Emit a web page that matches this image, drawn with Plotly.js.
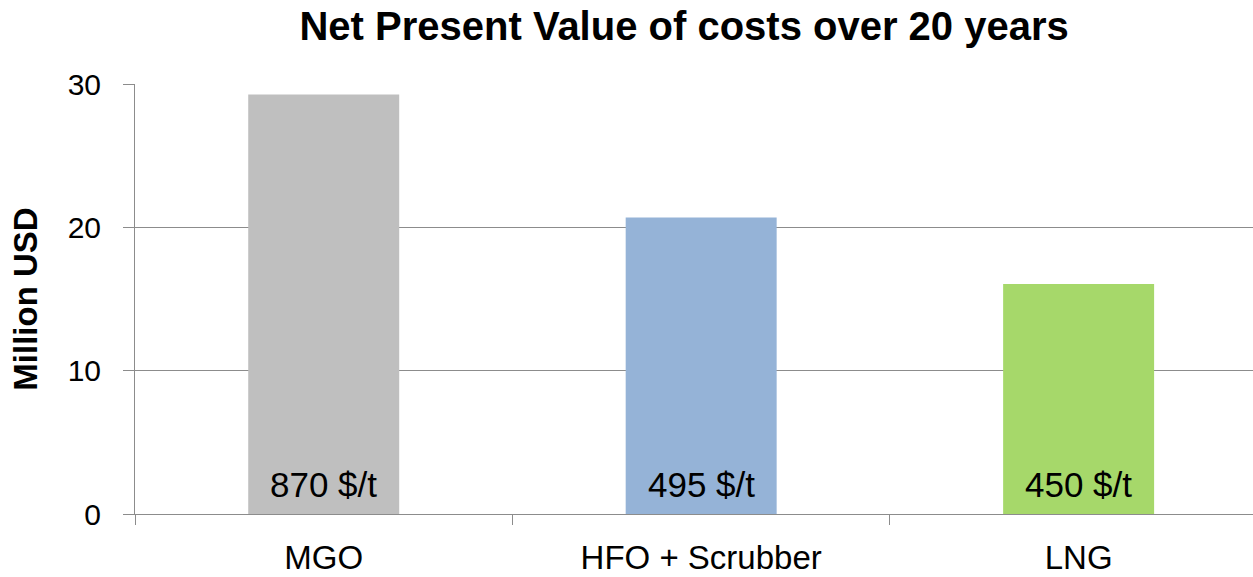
<!DOCTYPE html>
<html>
<head>
<meta charset="utf-8">
<script src="https://cdn.plot.ly/plotly-3.0.1.min.js"></script>
<style>
html,body{margin:0;padding:0;background:#fff;}
#chart{width:1253px;height:577px;}
</style>
</head>
<body>
<div id="chart"></div>
<script>
const categories = ["MGO", "HFO + Scrubber", "LNG"];
const npvMillionUSD = [29.26, 20.68, 16.05];
const fuelPrices = ["870 $/t", "495 $/t", "450 $/t"];
const barColors = ["#BFBFBF", "#95B3D7", "#A6D86A"];
const yTicks = [0, 10, 20, 30];

const FONT = "Liberation Sans, Arial, sans-serif";

const trace = {
  type: "bar",
  x: categories,
  y: npvMillionUSD,
  marker: {color: barColors, line: {width: 0}},
  width: 0.4,
  hoverinfo: "x+y"
};

const annotations = categories.map((c, i) => ({
  x: c, y: 0, xref: "x", yref: "y",
  text: fuelPrices[i],
  showarrow: false,
  xanchor: "center", yanchor: "middle",
  yshift: 30,
  font: {family: FONT, size: 35, color: "#000"}
}));

const layout = {
  width: 1253, height: 577,
  margin: {l: 135, r: 0, t: 84, b: 63},
  paper_bgcolor: "#fff", plot_bgcolor: "#fff",
  showlegend: false,
  title: {
    text: "<b>Net Present Value of costs over 20 years</b>",
    font: {family: FONT, size: 40, color: "#000"},
    x: 0.546, xref: "container", xanchor: "center",
    y: 0.955, yref: "container", yanchor: "middle"
  },
  xaxis: {
    type: "category",
    range: [-0.5, 2.462],
    showline: true, linecolor: "#8C8C8C", linewidth: 1,
    ticks: "outside", tickson: "boundaries", ticklen: 10, tickcolor: "#8C8C8C", tickwidth: 1,
    showgrid: false, zeroline: false,
    tickfont: {family: FONT, size: 33, color: "#000"},
    ticklabelstandoff: 14
  },
  yaxis: {
    range: [0, 30],
    tickvals: yTicks,
    showline: true, linecolor: "#8C8C8C", linewidth: 1,
    ticks: "outside", ticklen: 11, tickcolor: "#8C8C8C", tickwidth: 1,
    showgrid: true, gridcolor: "#8C8C8C", gridwidth: 1,
    zeroline: false,
    tickfont: {family: FONT, size: 30, color: "#000"},
    ticklabelstandoff: 16,
    title: {
      text: "<b>Million USD</b>",
      font: {family: FONT, size: 33, color: "#000"},
      standoff: 20
    }
  },
  annotations: annotations,
  bargap: 0.6
};

Plotly.newPlot("chart", [trace], layout, {displayModeBar: false, staticPlot: true});
</script>
</body>
</html>
